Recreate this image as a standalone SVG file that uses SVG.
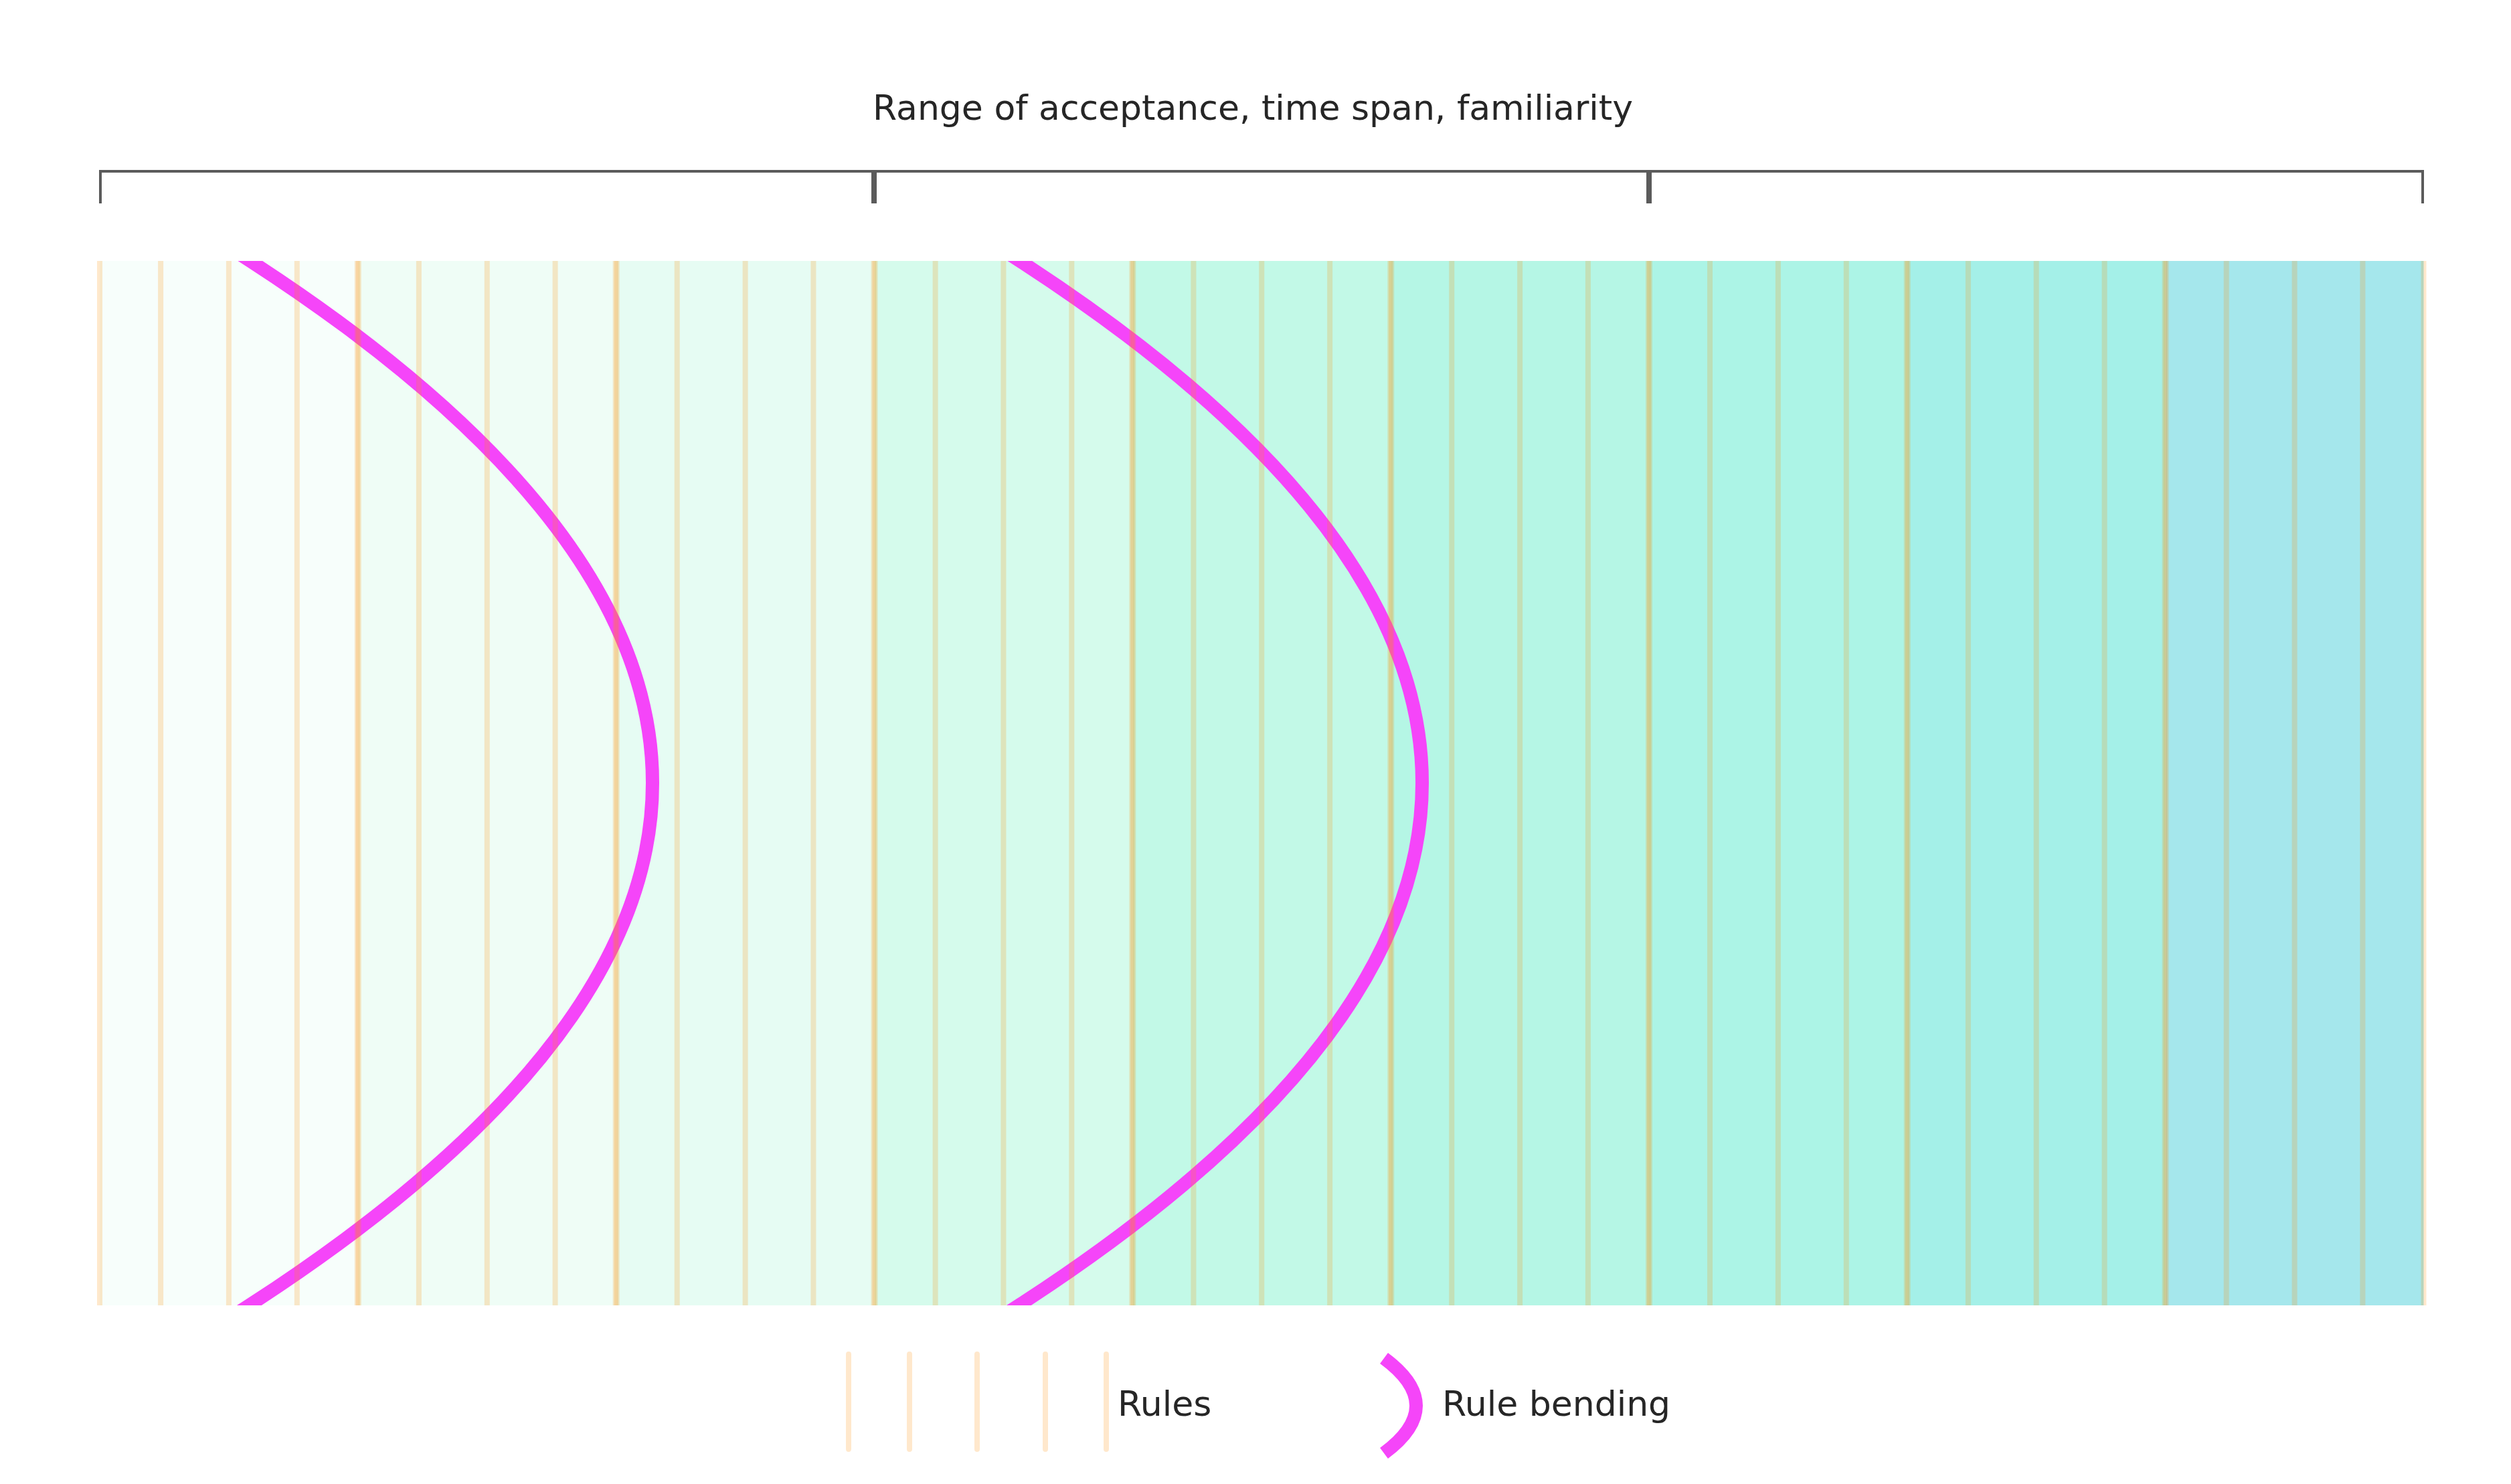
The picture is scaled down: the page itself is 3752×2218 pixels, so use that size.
<svg xmlns="http://www.w3.org/2000/svg" width="3752" height="2218" viewBox="0 0 3752 2218">
  <style>
    .lbl { font-family: "DejaVu Sans", "Liberation Sans", sans-serif; font-size: 52px; fill: #262626; }
    .brk { fill: none; stroke: #5B5B5B; stroke-width: 4; stroke-linejoin: miter; }
    .rule { stroke: #FF8C00; stroke-opacity: 0.2; stroke-width: 8; }
    .lrule { stroke: #FF8C00; stroke-opacity: 0.2; stroke-width: 8; stroke-linecap: round; }
    .bend { fill: none; stroke: #F545F9; stroke-width: 20; }
  </style>
  <defs>
    <clipPath id="area">
      <rect x="149" y="390" width="3472.5" height="1561"/>
    </clipPath>
  </defs>
  <rect width="3752" height="2218" fill="#FFFFFF"/>

  <g id="title">
    <text class="lbl" x="1872" y="179" text-anchor="middle">Range of acceptance, time span, familiarity</text>
  </g>

  <g id="bracket">
    <path class="brk" d="M150 304 V256 H1304 V304"/>
    <path class="brk" d="M1308 304 V256 H2462 V304"/>
    <path class="brk" d="M2466 304 V256 H3620 V304"/>
  </g>

  <g id="bands">
    <rect x="149" y="390" width="385.83" height="1561" fill="#F7FEFB"/>
    <rect x="534.83" y="390" width="385.83" height="1561" fill="#EFFDF6"/>
    <rect x="920.66" y="390" width="385.83" height="1561" fill="#E6FCF3"/>
    <rect x="1306.49" y="390" width="385.83" height="1561" fill="#D5FBEC"/>
    <rect x="1692.32" y="390" width="385.83" height="1561" fill="#C2F9E7"/>
    <rect x="2078.15" y="390" width="385.83" height="1561" fill="#B5F6E5"/>
    <rect x="2463.98" y="390" width="385.83" height="1561" fill="#ACF4E6"/>
    <rect x="2849.81" y="390" width="385.83" height="1561" fill="#A4F0E8"/>
    <rect x="3235.64" y="390" width="385.83" height="1561" fill="#A5E7EC"/>
  </g>

  <g id="bends" clip-path="url(#area)">
    <path class="bend" d="M349 374 L374 390 Q1576 1170 374 1950 L349 1966"/>
    <path class="bend" d="M1499 374 L1524 390 Q2726 1170 1524 1950 L1499 1966"/>
  </g>

  <g id="rules">
    <path class="rule" d="M149 390 V1951 M240.1 390 V1951 M341.9 390 V1951 M443.8 390 V1951 M533.8 390 V1951"/>
    <path class="rule" d="M535.8 390 V1951 M625.9 390 V1951 M727.8 390 V1951 M829.6 390 V1951 M919.7 390 V1951"/>
    <path class="rule" d="M921.7 390 V1951 M1011.7 390 V1951 M1113.6 390 V1951 M1215.4 390 V1951 M1305.5 390 V1951"/>
    <path class="rule" d="M1307.5 390 V1951 M1397.6 390 V1951 M1499.4 390 V1951 M1601.3 390 V1951 M1691.3 390 V1951"/>
    <path class="rule" d="M1693.3 390 V1951 M1783.4 390 V1951 M1885.2 390 V1951 M1987.1 390 V1951 M2077.2 390 V1951"/>
    <path class="rule" d="M2079.2 390 V1951 M2169.2 390 V1951 M2271.1 390 V1951 M2372.9 390 V1951 M2463 390 V1951"/>
    <path class="rule" d="M2465 390 V1951 M2555 390 V1951 M2656.9 390 V1951 M2758.8 390 V1951 M2848.8 390 V1951"/>
    <path class="rule" d="M2850.8 390 V1951 M2940.9 390 V1951 M3042.7 390 V1951 M3144.6 390 V1951 M3234.6 390 V1951"/>
    <path class="rule" d="M3236.6 390 V1951 M3326.7 390 V1951 M3428.6 390 V1951 M3530.4 390 V1951 M3621.5 390 V1951"/>
  </g>

  <g id="legend-rules">
    <path class="lrule" d="M1268 2024 V2166 M1359 2024 V2166 M1460 2024 V2166 M1562 2024 V2166 M1653 2024 V2166"/>
    <text class="lbl" x="1670" y="2116">Rules</text>
  </g>

  <g id="legend-bending">
    <path class="bend" d="M2068 2030 Q2164 2101 2068 2172"/>
    <text class="lbl" x="2155" y="2116">Rule bending</text>
  </g>
</svg>
